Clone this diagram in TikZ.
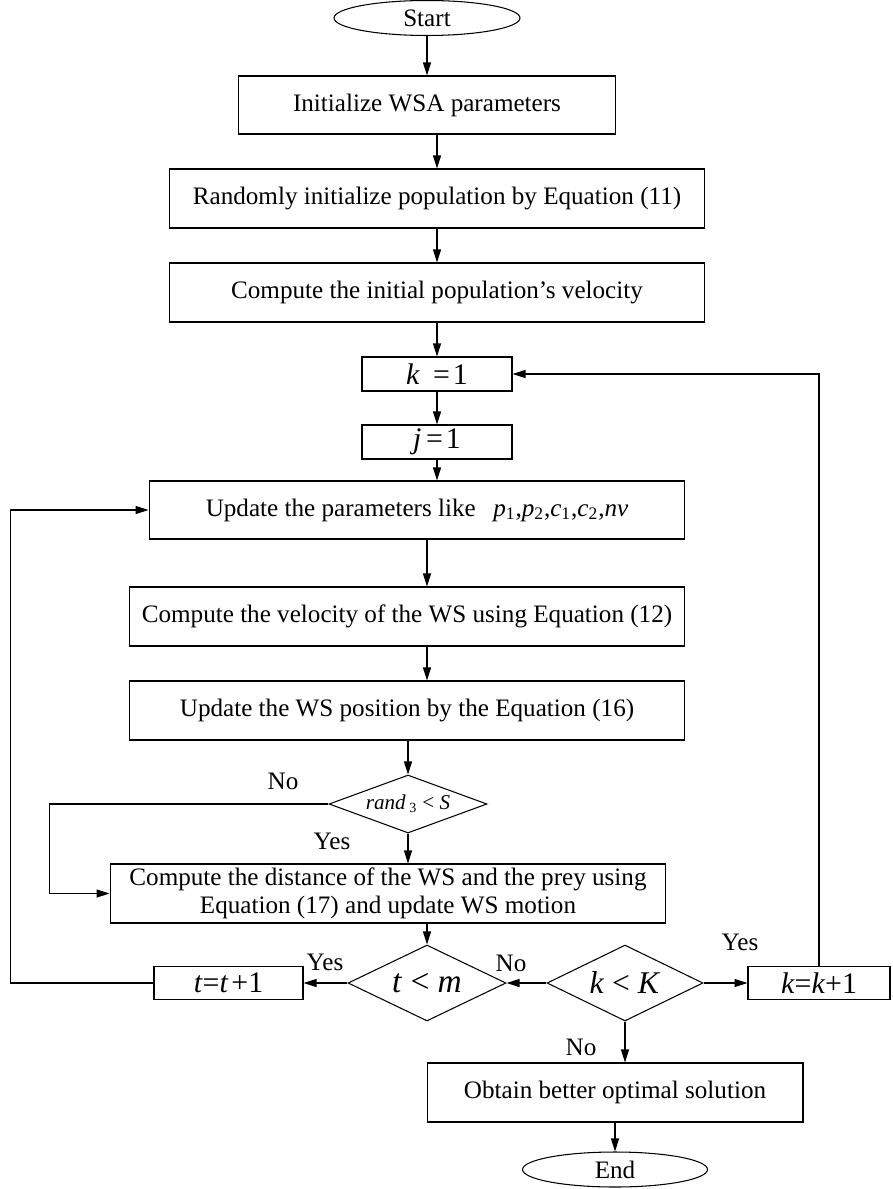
\documentclass[tikz,border=0pt]{standalone}
\usepackage{fontspec}
\setmainfont{Liberation Serif}
\usetikzlibrary{shapes.geometric,arrows.meta}

\newcommand{\vi}[1]{\textit{#1}}

\begin{document}
\begin{tikzpicture}[x=0.02cm, y=-0.02cm,
  every node/.style={font=\fontsize{14.3}{16}\selectfont},
  box/.style={rectangle, draw, line width=0.6pt, minimum height=1.18cm, inner sep=2pt},
  term/.style={ellipse, draw, line width=0.6pt, minimum width=3.72cm, minimum height=0.7cm, inner sep=0pt},
  dec/.style={diamond, draw, line width=0.6pt, inner sep=0pt},
  e/.style={-{Triangle[length=2.6mm,width=1.6mm]}, line width=0.6pt},
  lab/.style={inner sep=0pt}
]
\useasboundingbox (0,0) rectangle (892,1189);

\node[term] (start) at (427,18) {Start};
\node[box, minimum width=7.56cm, minimum height=1.16cm] (init) at (427,105) {Initialize WSA parameters};
\node[box, minimum width=10.72cm] (rinit) at (437,198.5) {Randomly initialize population by Equation (11)};
\node[box, minimum width=10.72cm] (ivel) at (437,292.5) {Compute the initial population's velocity};
\node[box, minimum width=3cm, minimum height=0.68cm, font=\fontsize{17}{20}\selectfont] (kone) at (437,374) {\vi{k}\hspace{0.45em}=\hspace{0.1em}1};
\node[box, minimum width=3cm, minimum height=0.68cm, font=\fontsize{17}{20}\selectfont] (jone) at (437,442) {\vi{j}\hspace{0.15em}=\hspace{0.1em}1};
\node[box, minimum width=10.72cm, minimum height=1.16cm] (upd) at (417,510) {Update the parameters like\hspace{0.7em}\vi{p}\textsubscript{1},\vi{p}\textsubscript{2},\vi{c}\textsubscript{1},\vi{c}\textsubscript{2},\vi{nv}};
\node[box, minimum width=11.12cm] (vel) at (407,616.5) {Compute the velocity of the WS using Equation (12)};
\node[box, minimum width=11.12cm] (pos) at (407,710.5) {Update the WS position by the Equation (16)};
\node[dec, aspect=2.7, minimum width=3.16cm, minimum height=1.16cm, font=\fontsize{12}{14}\selectfont] (rdec) at (408,804) {\vi{rand}\,\textsubscript{3} < \vi{S}};
\node[box, minimum width=11.12cm, align=center] (dist) at (388,893.5) {Compute the distance of the WS and the prey using\\Equation (17) and update WS motion};
\node[dec, aspect=2.1, minimum width=3.16cm, minimum height=1.52cm, font=\fontsize{19}{22}\selectfont] (tdec) at (427,983) {\vi{t} < \vi{m}};
\node[dec, aspect=2.1, minimum width=3.12cm, minimum height=1.52cm, font=\fontsize{18}{22}\selectfont] (kdec) at (625,983) {\vi{k} < \vi{K}};
\node[box, minimum width=2.98cm, minimum height=0.66cm, font=\fontsize{17}{20}\selectfont] (tinc) at (228.5,983) {\vi{t}=\vi{t}\hspace{0.1em}+1};
\node[box, minimum width=2.84cm, minimum height=0.66cm, font=\fontsize{17}{20}\selectfont] (kinc) at (819,983) {\vi{k}=\vi{k}+1};
\node[box, minimum width=7.52cm] (best) at (615,1092.5) {Obtain better optimal solution};
\node[term, minimum width=3.70cm] (fin) at (615,1169.5) {End};

% branch labels
\node[lab] (rno) at (283,781) {No};
\node[lab] (ryes) at (332,841) {Yes};
\node[lab] (tyes) at (325,962) {Yes};
\node[lab] (kno) at (511,963) {No};
\node[lab] (kyes) at (740,942) {Yes};
\node[lab] (kno2) at (581,1047) {No};

\draw[e] (start) -- (init);
\draw[e] (init.south -| rinit.north) -- (rinit.north);
\draw[e] (rinit) -- (ivel);
\draw[e] (ivel) -- (kone);
\draw[e] (kone) -- (jone);
\draw[e] (jone.south) -- (jone.south |- upd.north);
\draw[e] (upd.south -| tdec.north) -- (vel.north -| tdec.north);
\draw[e] (vel.south -| tdec.north) -- (pos.north -| tdec.north);
\draw[e] (pos.south -| rdec.north) -- (rdec.north);
\draw[e] (rdec.south) -- (rdec.south |- dist.north);
\draw[e] (rdec.west) -- ++(-279,0) |- (dist.west);
\draw[e] (dist.south -| tdec.north) -- (tdec.north);
\draw[e] (tdec.west) -- (tinc.east);
\draw[e] (tinc.west) -- ++(-143,0) |- (upd.west);
\draw[e] (kdec.west) -- (tdec.east);
\draw[e] (kdec.east) -- (kinc.west);
\draw[e] (kinc.north) |- (kone.east);
\draw[e] (kdec.south) -- (kdec.south |- best.north);
\draw[e] (best) -- (fin);
\end{tikzpicture}
\end{document}
